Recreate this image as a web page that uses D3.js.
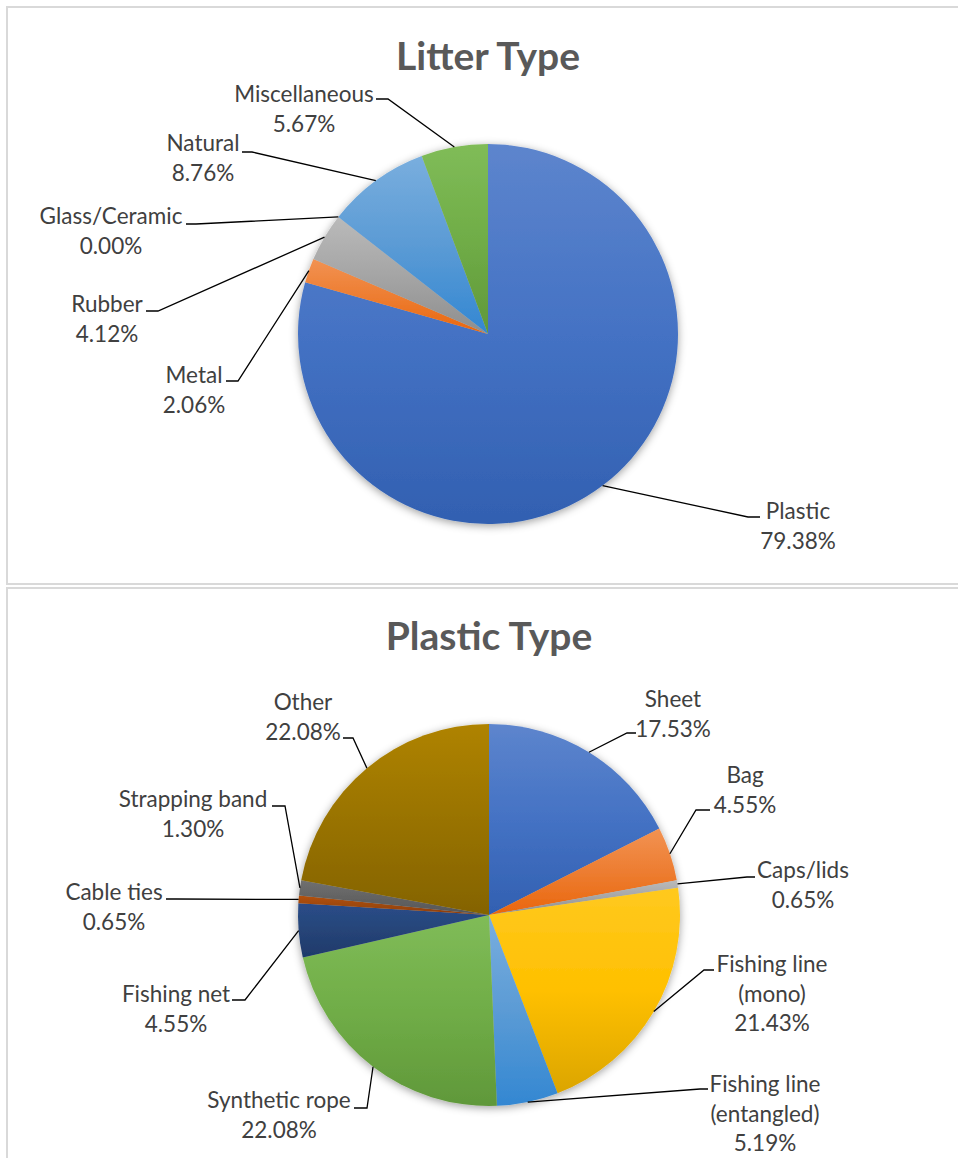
<!DOCTYPE html>
<html>
<head>
<meta charset="utf-8">
<script src="https://cdn.jsdelivr.net/npm/d3@7"></script>
<style>
  html, body { margin: 0; padding: 0; background: #fff; }
  svg { display: block; }
  .title { font-family: Lato, "Open Sans", sans-serif; font-weight: 700; fill: #595959; }
  .lbl { font-family: Lato, "Open Sans", sans-serif; fill: #404040; }
</style>
</head>
<body>
<svg id="chart" width="958" height="1158"></svg>
<script>
// ---- data ----
const litterCategories = ["Plastic", "Metal", "Rubber", "Glass/Ceramic", "Natural", "Miscellaneous"];
const litterValues = [79.38, 2.06, 4.12, 0.00, 8.76, 5.67];

const plasticCategories = ["Sheet", "Bag", "Caps/lids", "Fishing line (mono)", "Fishing line (entangled)",
  "Synthetic rope", "Fishing net", "Cable ties", "Strapping band", "Other"];
const plasticValues = [17.53, 4.55, 0.65, 21.43, 5.19, 22.08, 4.55, 0.65, 1.30, 22.08];

// ---- styling / layout ----
const litterColors = ["#4472C4", "#ED7D31", "#A5A5A5", "#FFC000", "#5B9BD5", "#70AD47"];
const plasticColors = ["#4472C4", "#ED7D31", "#A5A5A5", "#FFC000", "#5B9BD5", "#70AD47",
  "#264478", "#9E480E", "#636363", "#997300"];

// label text lines per category (name lines), value line appended
const labelLines = {
  "Fishing line (mono)": ["Fishing line", "(mono)"],
  "Fishing line (entangled)": ["Fishing line", "(entangled)"]
};

// text centre x, first baseline y, leader elbow and attach points
const litterLayout = [
  { x: 798, y: 519, elbow: [748, 517], attach: [760, 517] },
  { x: 194, y: 383, elbow: [238, 381], attach: [226, 381] },
  { x: 107, y: 312, elbow: [158, 311], attach: [146, 311] },
  { x: 111, y: 224, elbow: [196, 224], attach: [186, 224] },
  { x: 203, y: 151, elbow: [252, 152], attach: [242, 152] },
  { x: 304, y: 102, elbow: [388, 99], attach: [376, 99] }
];
const plasticLayout = [
  { x: 673, y: 707, elbow: [627, 733], attach: [636, 733] },
  { x: 745, y: 783, elbow: [696, 810], attach: [710, 810] },
  { x: 803, y: 878, elbow: [747, 877], attach: [755, 877] },
  { x: 772, y: 972, elbow: [704, 970], attach: [714, 970] },
  { x: 765, y: 1092, elbow: [700, 1089], attach: [708, 1089] },
  { x: 279, y: 1108, elbow: [367, 1108], attach: [354, 1108] },
  { x: 176, y: 1002, elbow: [245, 1000], attach: [232, 1000] },
  { x: 114, y: 900, elbow: [176, 899], attach: [166, 899] },
  { x: 193, y: 807, elbow: [285, 806], attach: [272, 806] },
  { x: 303, y: 710, elbow: [353, 738], attach: [343, 738] }
];

const LABEL_SIZE = 22.5;
const LINE_H = 29.5;
const svg = d3.select("#chart");
const defs = svg.append("defs");

// soft shadow round each pie
const shadow = defs.append("filter").attr("id", "pieShadow")
  .attr("x", "-20%").attr("y", "-20%").attr("width", "140%").attr("height", "140%");
shadow.append("feDropShadow").attr("dx", 0).attr("dy", 2).attr("stdDeviation", 4)
  .attr("flood-color", "#000").attr("flood-opacity", 0.38);

// vertical gradient for each base colour: lighter top, deeper bottom
function gradientFor(color) {
  const id = "g" + color.replace("#", "");
  if (!document.getElementById(id)) {
    const base = d3.hsl(color);
    const light = d3.hsl(base.h, base.s * 1.02, Math.min(0.95, base.l * 1.13)).formatHex();
    const dark = d3.hsl(base.h, Math.min(1, base.s * 1.08), base.l * 0.86).formatHex();
    const g = defs.append("linearGradient").attr("id", id)
      .attr("x1", 0).attr("y1", 0).attr("x2", 0).attr("y2", 1);
    g.append("stop").attr("offset", "0%").attr("stop-color", light);
    g.append("stop").attr("offset", "50%").attr("stop-color", color);
    g.append("stop").attr("offset", "100%").attr("stop-color", dark);
  }
  return "url(#" + id + ")";
}

// panel frames
svg.append("rect").attr("x", 7).attr("y", 7).attr("width", 970).attr("height", 577)
  .attr("fill", "none").attr("stroke", "#d9d9d9").attr("stroke-width", 2);
svg.append("rect").attr("x", 7).attr("y", 588).attr("width", 970).attr("height", 600)
  .attr("fill", "none").attr("stroke", "#d9d9d9").attr("stroke-width", 2);

const fmt = v => d3.format(".2f")(v) + "%";

function drawPie(cfg) {
  const { title, titleY, cx, cy, r, categories, values, colors, layout } = cfg;

  svg.append("text").attr("class", "title")
    .attr("x", cx).attr("y", titleY).attr("text-anchor", "middle")
    .attr("font-size", 39).text(title);

  const pie = d3.pie().sort(null).value(d => d);
  const arcs = pie(values);
  const arc = d3.arc().innerRadius(0).outerRadius(r);

  const g = svg.append("g").attr("transform", `translate(${cx},${cy})`)
    .attr("filter", "url(#pieShadow)");
  g.selectAll("path").data(arcs).join("path")
    .attr("d", arc)
    .attr("fill", (d, i) => gradientFor(colors[i]));

  const line = d3.line();
  arcs.forEach((a, i) => {
    const mid = (a.startAngle + a.endAngle) / 2;
    const p0 = [cx + r * Math.sin(mid), cy - r * Math.cos(mid)];
    const L = layout[i];
    svg.append("path")
      .attr("d", line([p0, L.elbow, L.attach]))
      .attr("fill", "none").attr("stroke", "#000").attr("stroke-width", 1.3);

    const name = categories[i];
    const lines = (labelLines[name] || [name]).concat([fmt(values[i])]);
    const t = svg.append("text").attr("class", "lbl")
      .attr("text-anchor", "middle").attr("font-size", LABEL_SIZE);
    lines.forEach((s, k) => {
      t.append("tspan").attr("x", L.x).attr("y", L.y + k * LINE_H).text(s);
    });
  });
}

drawPie({ title: "Litter Type", titleY: 70, cx: 488, cy: 334, r: 190,
  categories: litterCategories, values: litterValues, colors: litterColors, layout: litterLayout });
drawPie({ title: "Plastic Type", titleY: 650, cx: 489, cy: 915, r: 191,
  categories: plasticCategories, values: plasticValues, colors: plasticColors, layout: plasticLayout });
</script>
</body>
</html>
